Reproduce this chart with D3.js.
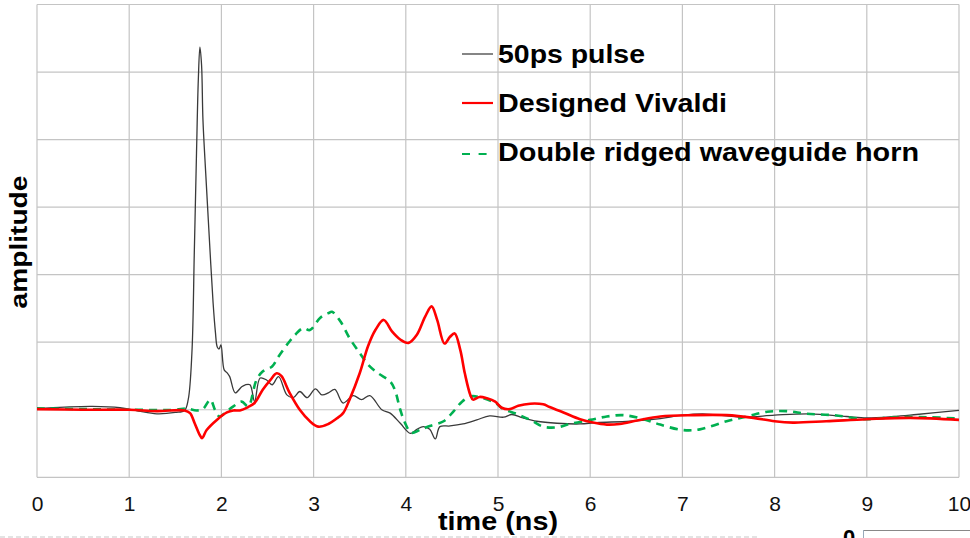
<!DOCTYPE html>
<html>
<head>
<meta charset="utf-8">
<script src="https://cdn.jsdelivr.net/npm/d3@7"></script>
<style>
  html, body { margin: 0; padding: 0; background: #fff; }
  svg { display: block; font-family: "Liberation Sans", Arial, sans-serif; }
</style>
</head>
<body>
<svg id="chart" width="970" height="538"></svg>
<script>
// ---- data ----
const xTicks = [0, 1, 2, 3, 4, 5, 6, 7, 8, 9, 10];
const yGrid = [-1, 0, 1, 2, 3, 4, 5, 6];
const seriesNames = ["50ps pulse", "Designed Vivaldi", "Double ridged waveguide horn"];

const pulseT = [0, 0.3, 0.6, 0.9, 1.1, 1.3, 1.5, 1.6, 1.64, 1.68, 1.706, 1.73, 1.75, 1.767, 1.785, 1.80, 1.83, 1.858, 1.885, 1.91, 1.935, 1.955, 1.975, 1.995, 2.03, 2.06, 2.09, 2.15, 2.22, 2.26, 2.31, 2.36, 2.42, 2.49, 2.55, 2.62, 2.71, 2.78, 2.85, 2.93, 3.02, 3.09, 3.16, 3.23, 3.32, 3.43, 3.52, 3.61, 3.74, 3.83, 3.94, 4.05, 4.12, 4.19, 4.26, 4.32, 4.37, 4.48, 4.62, 4.77, 4.91, 5.06, 5.15, 5.27, 5.42, 5.64, 5.89, 6.07, 6.43, 6.76, 7.0, 7.22, 7.66, 8.0, 8.38, 8.78, 9.0, 9.29, 9.54, 10];
const pulseV = [0.02, 0.04, 0.05, 0.03, -0.02, -0.06, -0.04, -0.01, 0.15, 0.84, 2.32, 3.8, 4.9, 5.37, 5.1, 4.29, 3.5, 2.81, 2.15, 1.58, 1.15, 0.93, 0.9, 0.96, 0.59, 0.55, 0.49, 0.25, 0.34, 0.37, 0.37, 0.12, 0.47, 0.44, 0.37, 0.49, 0.22, 0.18, 0.27, 0.18, 0.31, 0.22, 0.25, 0.30, 0.10, 0.21, 0.15, 0.21, 0.0, -0.05, -0.2, -0.35, -0.29, -0.25, -0.29, -0.43, -0.25, -0.24, -0.21, -0.15, -0.09, -0.11, -0.07, -0.12, -0.17, -0.2, -0.21, -0.19, -0.17, -0.13, -0.08, -0.06, -0.11, -0.08, -0.06, -0.1, -0.12, -0.1, -0.07, -0.01];

const vivaldiT = [0, 0.5, 1.0, 1.3, 1.6, 1.66, 1.71, 1.76, 1.79, 1.84, 1.95, 2.06, 2.13, 2.2, 2.29, 2.36, 2.45, 2.53, 2.6, 2.65, 2.74, 2.85, 2.96, 3.05, 3.16, 3.25, 3.32, 3.39, 3.5, 3.59, 3.67, 3.76, 3.85, 3.94, 4.03, 4.12, 4.21, 4.28, 4.34, 4.42, 4.48, 4.53, 4.59, 4.64, 4.7, 4.73, 4.8, 4.88, 4.97, 5.04, 5.13, 5.22, 5.35, 5.49, 5.56, 5.71, 5.89, 6.03, 6.18, 6.32, 6.51, 6.76, 7.11, 7.48, 7.77, 8.0, 8.2, 8.56, 9.0, 9.47, 10];
const vivaldiV = [0.01, 0.0, 0.0, -0.02, -0.01, -0.05, -0.2, -0.36, -0.42, -0.3, -0.15, -0.04, -0.01, -0.01, 0.04, 0.1, 0.3, 0.44, 0.54, 0.5, 0.25, 0.0, -0.17, -0.25, -0.21, -0.13, -0.05, 0.15, 0.54, 0.94, 1.18, 1.33, 1.16, 1.04, 0.99, 1.11, 1.38, 1.53, 1.33, 0.98, 1.08, 1.13, 0.89, 0.54, 0.22, 0.15, 0.19, 0.17, 0.12, 0.03, 0.01, 0.06, 0.09, 0.08, 0.04, -0.04, -0.14, -0.19, -0.22, -0.21, -0.16, -0.1, -0.08, -0.08, -0.12, -0.17, -0.19, -0.17, -0.14, -0.12, -0.15];

const hornT = [0, 0.5, 1.0, 1.5, 1.62, 1.73, 1.8, 1.88, 1.93, 1.98, 2.06, 2.13, 2.22, 2.29, 2.38, 2.45, 2.55, 2.62, 2.71, 2.8, 2.89, 2.96, 3.07, 3.16, 3.2, 3.29, 3.39, 3.5, 3.59, 3.7, 3.83, 3.88, 3.94, 3.99, 4.06, 4.15, 4.26, 4.41, 4.52, 4.61, 4.71, 4.84, 4.97, 5.06, 5.2, 5.35, 5.49, 5.64, 5.78, 6.0, 6.18, 6.36, 6.58, 6.76, 7.0, 7.19, 7.48, 7.7, 7.92, 8.13, 8.35, 8.64, 9.0, 9.29, 9.65, 10];
const hornV = [0.02, 0.01, 0.0, 0.0, 0.02, -0.01, 0.01, 0.15, 0.0, -0.1, -0.02, 0.05, 0.12, 0.05, 0.44, 0.57, 0.64, 0.79, 0.96, 1.11, 1.21, 1.18, 1.36, 1.43, 1.45, 1.31, 1.06, 0.84, 0.67, 0.54, 0.42, 0.3, 0.0, -0.19, -0.34, -0.3, -0.24, -0.17, -0.02, 0.12, 0.2, 0.17, 0.1, 0.01, -0.06, -0.15, -0.25, -0.26, -0.21, -0.15, -0.1, -0.08, -0.14, -0.22, -0.3, -0.29, -0.17, -0.1, -0.03, -0.02, -0.06, -0.08, -0.14, -0.11, -0.11, -0.13];

// ---- layout ----
const svg = d3.select("#chart");
const x = d3.scaleLinear().domain([0, 10]).range([37, 959]);
const y = d3.scaleLinear().domain([-1, 6]).range([477.3, 4.5]);
const gridColor = "#c4c4c4";

// grid
svg.append("g").selectAll("line").data(xTicks).join("line")
  .attr("x1", d => x(d)).attr("x2", d => x(d))
  .attr("y1", y(6)).attr("y2", y(-1))
  .attr("stroke", gridColor).attr("stroke-width", 1.2);
svg.append("g").selectAll("line").data(yGrid).join("line")
  .attr("x1", x(0)).attr("x2", x(10))
  .attr("y1", d => y(d)).attr("y2", d => y(d))
  .attr("stroke", gridColor).attr("stroke-width", 1.2);

// x axis tick labels
const xAxis = d3.axisBottom(x).tickValues(xTicks).tickSize(0).tickPadding(0).tickFormat(d3.format("d"));
const gx = svg.append("g").attr("transform", `translate(0,${y(-1)})`).call(xAxis);
gx.select(".domain").remove();
gx.selectAll("text").attr("dy", null).attr("y", 34)
  .attr("font-size", 21).attr("fill", "#111")
  .attr("font-family", "'Liberation Sans', Arial, sans-serif");

// lines
const line = d3.line().x(d => x(d[0])).y(d => y(d[1])).curve(d3.curveCatmullRom.alpha(0.5));
const zip = (a, b) => a.map((t, i) => [t, b[i]]);

svg.append("path").datum(zip(pulseT, pulseV)).attr("d", line)
  .attr("fill", "none").attr("stroke", "#3a3a3a").attr("stroke-width", 1.3);
svg.append("path").datum(zip(hornT, hornV)).attr("d", line)
  .attr("fill", "none").attr("stroke", "#00b050").attr("stroke-width", 2.6)
  .attr("stroke-dasharray", "8,6");
svg.append("path").datum(zip(vivaldiT, vivaldiV)).attr("d", line)
  .attr("fill", "none").attr("stroke", "#ff0000").attr("stroke-width", 2.6);

// legend
const legend = [
  { name: seriesNames[0], color: "#666", w: 1.6, dash: null, cy: 54, base: 63, len: 147, x2: 493 },
  { name: seriesNames[1], color: "#ff0000", w: 2.2, dash: null, cy: 103, base: 112, len: 229, x2: 493 },
  { name: seriesNames[2], color: "#00b050", w: 2.2, dash: "8,8.6", cy: 154, base: 161, len: 421, x2: 488 }
];
const lg = svg.append("g");
legend.forEach(l => {
  lg.append("line").attr("x1", 462).attr("x2", l.x2).attr("y1", l.cy).attr("y2", l.cy)
    .attr("stroke", l.color).attr("stroke-width", l.w)
    .attr("stroke-dasharray", l.dash);
  lg.append("text").attr("x", 498).attr("y", l.base)
    .attr("font-size", 25).attr("font-weight", "bold").attr("fill", "#000")
    .attr("textLength", l.len).attr("lengthAdjust", "spacingAndGlyphs")
    .text(l.name);
});

// axis titles
svg.append("text").attr("x", 498).attr("y", 530).attr("text-anchor", "middle")
  .attr("font-size", 25).attr("font-weight", "bold")
  .attr("textLength", 120).attr("lengthAdjust", "spacingAndGlyphs")
  .text("time (ns)");
svg.append("text").attr("transform", "translate(27,242) rotate(-90)")
  .attr("text-anchor", "middle").attr("font-size", 24.5).attr("font-weight", "bold")
  .attr("textLength", 133).attr("lengthAdjust", "spacingAndGlyphs")
  .text("amplitude");

// cropped-edge remnants at the bottom of the picture
svg.append("line").attr("x1", 0).attr("x2", 757).attr("y1", 537).attr("y2", 537)
  .attr("stroke", "#c8c8c8").attr("stroke-width", 1.2).attr("stroke-dasharray", "5,3");
svg.append("text").attr("x", 849).attr("y", 545).attr("text-anchor", "middle")
  .attr("font-size", 22).attr("font-weight", "bold").text("0");
svg.append("line").attr("x1", 863).attr("x2", 970).attr("y1", 530.5).attr("y2", 530.5)
  .attr("stroke", "#888").attr("stroke-width", 1);
svg.append("line").attr("x1", 863.5).attr("x2", 863.5).attr("y1", 530).attr("y2", 538)
  .attr("stroke", "#9ab").attr("stroke-width", 1);
</script>
</body>
</html>
